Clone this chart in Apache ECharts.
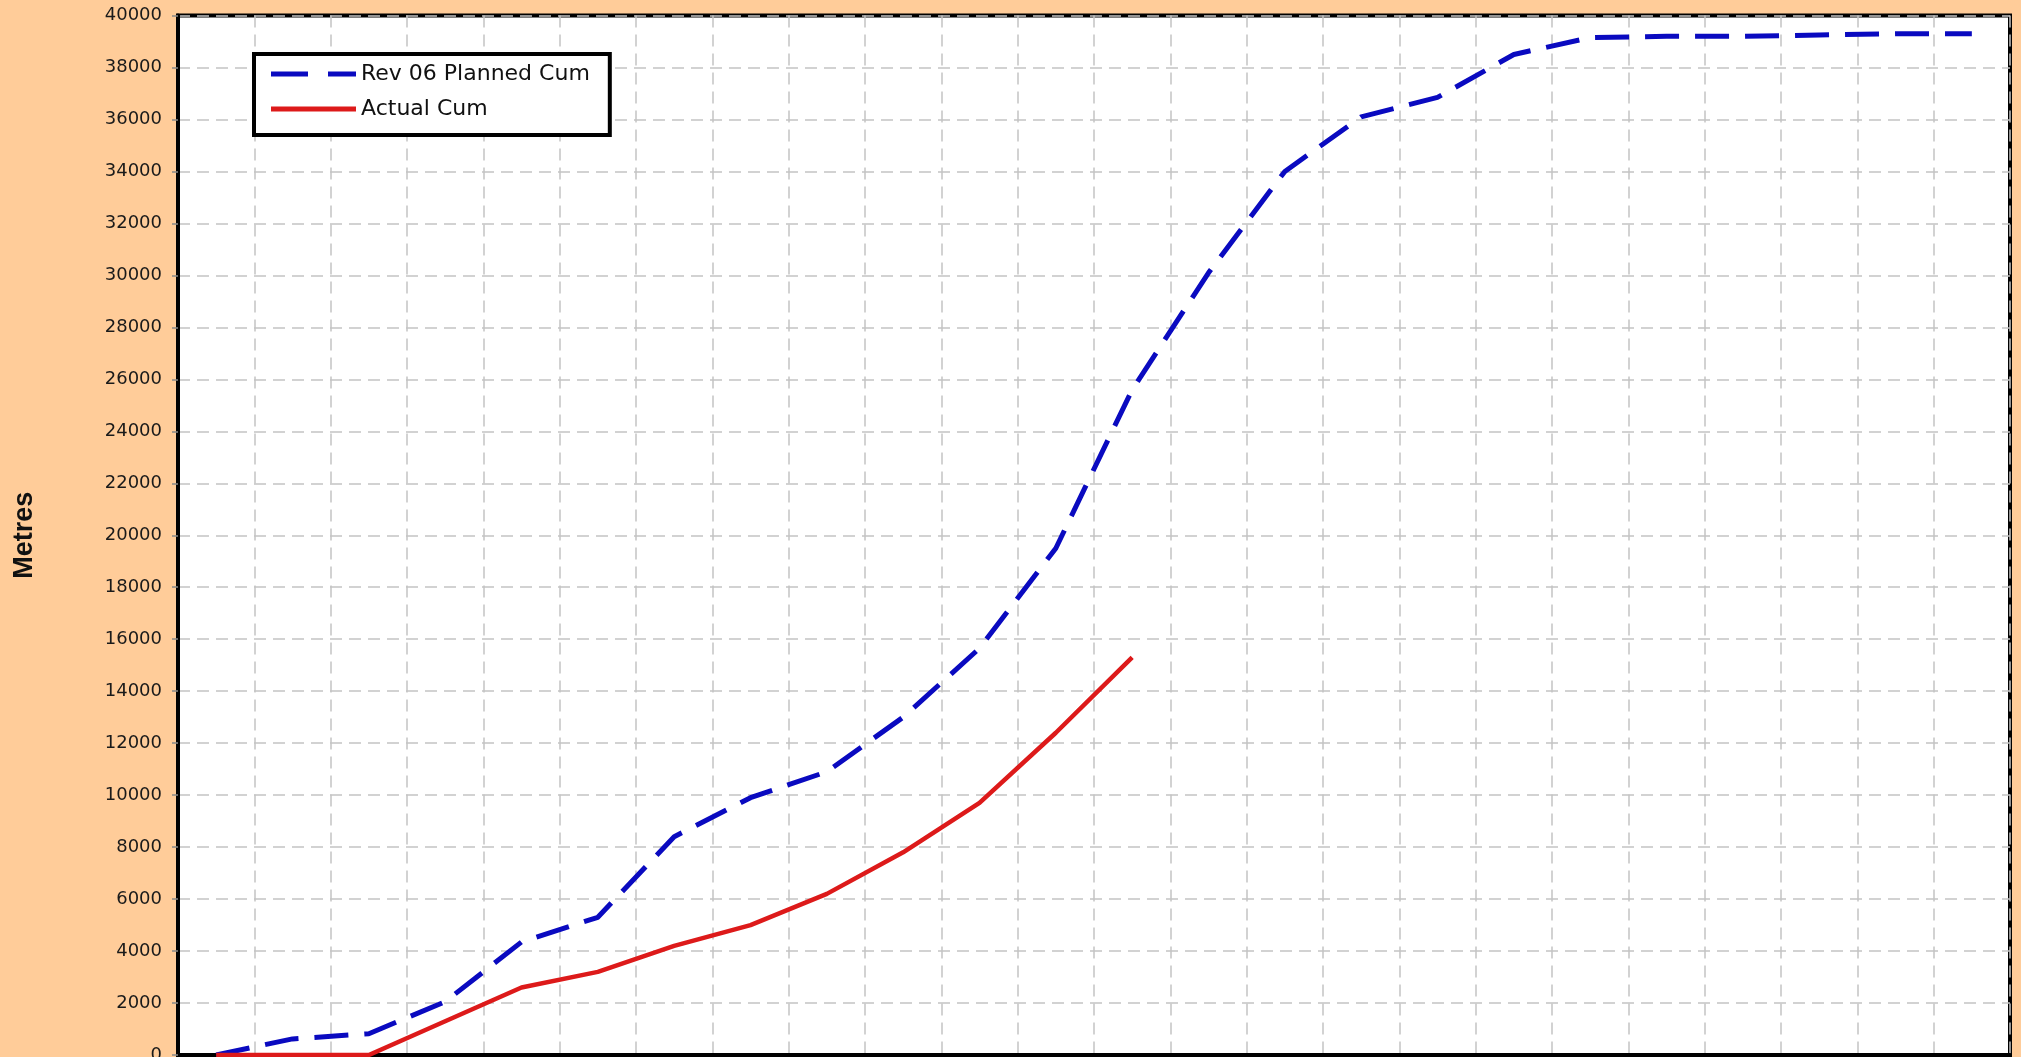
<!DOCTYPE html>
<html>
<head>
<meta charset="utf-8">
<script src="https://cdn.jsdelivr.net/npm/echarts@6/dist/echarts.min.js"></script>
<style>
html,body{margin:0;padding:0;background:#FFCC99;}
#chart{width:2021px;height:1057px;}
</style>
</head>
<body>
<div id="chart"></div>
<script>
// Periods (category axis labels lie below the visible picture)
var categories = ['1','2','3','4','5','6','7','8','9','10','11','12','13','14','15','16','17','18','19','20','21','22','23','24'];
var plannedCum = [0, 620, 820, 2050, 4350, 5300, 8400, 9900, 10900, 13000, 15650, 19500, 25600, 30100, 34000, 36100, 36850, 38500, 39150, 39200, 39200, 39250, 39300, 39300];
var actualCum = [0, 0, 0, 1300, 2600, 3200, 4200, 5000, 6200, 7800, 9700, 12400, 15300, null, null, null, null, null, null, null, null, null, null, null];
var yTicks = {min: 0, max: 40000, interval: 2000};

var chart = echarts.init(document.getElementById('chart'));
chart.setOption({
  backgroundColor: '#FFCC99',
  animation: false,
  textStyle: {fontFamily: 'DejaVu Sans'},
  grid: {
    left: 178, right: 11, top: 15.5, bottom: 2,
    outerBoundsMode: 'none',
    containLabel: false,
    show: true, backgroundColor: '#ffffff',
    borderColor: '#000000', borderWidth: 4
  },
  legend: {
    orient: 'vertical',
    left: 254, top: 54,
    backgroundColor: '#ffffff',
    borderColor: '#000000', borderWidth: 4,
    borderRadius: 0,
    padding: [9, 20, 15, 17],
    itemWidth: 85, itemHeight: 5,
    itemGap: 13,
    textStyle: {fontFamily: 'DejaVu Sans', fontSize: 22, color: '#111111'},
    data: [
      {name: 'Rev 06 Planned Cum', icon: 'path://M0,0 L37,0 L37,5 L0,5 Z M57,0 L85,0 L85,5 L57,5 Z'},
      {name: 'Actual Cum', icon: 'rect'}
    ]
  },
  xAxis: {
    type: 'category',
    data: categories,
    boundaryGap: true,
    axisLine: {show: true, lineStyle: {color: '#000000', width: 4}},
    axisTick: {show: false},
    axisLabel: {show: false, interval: 0},
    splitLine: {show: true, interval: 0, lineStyle: {color: '#c4c4c4', width: 1.5, type: [12, 7]}}
  },
  yAxis: {
    type: 'value',
    min: yTicks.min, max: yTicks.max, interval: yTicks.interval,
    name: 'Metres',
    nameLocation: 'middle',
    nameRotate: 90,
    nameGap: 140,
    nameTextStyle: {fontFamily: 'Liberation Sans', fontWeight: 'bold', fontSize: 27, color: '#111111'},
    axisLine: {show: true, lineStyle: {color: '#000000', width: 4}},
    axisTick: {show: true, length: 6, inside: false, lineStyle: {color: '#888888', width: 1.5}},
    axisLabel: {
      fontFamily: 'DejaVu Sans', fontSize: 18, color: '#1a1a1a', margin: 16,
      formatter: function (v) { return String(v); }
    },
    splitLine: {show: true, lineStyle: {color: '#c4c4c4', width: 1.5, type: [12, 7]}}
  },
  series: [
    {
      name: 'Rev 06 Planned Cum',
      type: 'line',
      data: plannedCum,
      symbol: 'none',
      color: '#0a0ac0',
      lineStyle: {color: '#0a0ac0', width: 5, type: [34, 16]},
      z: 3
    },
    {
      name: 'Actual Cum',
      type: 'line',
      data: actualCum,
      symbol: 'none',
      color: '#dd1a1a',
      lineStyle: {color: '#dd1a1a', width: 4.5, type: 'solid'},
      z: 4
    }
  ]
});
</script>
</body>
</html>
